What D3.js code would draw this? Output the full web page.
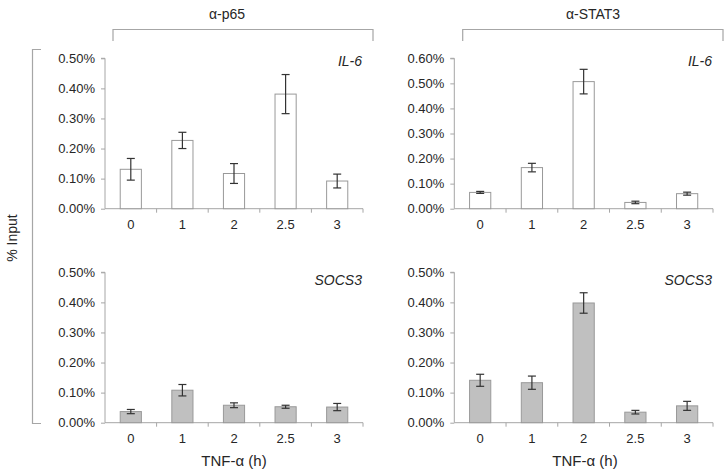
<!DOCTYPE html>
<html><head><meta charset="utf-8">
<script src="https://cdn.jsdelivr.net/npm/d3@7"></script>
<style>body{margin:0;background:#fff}svg{display:block}text{font-family:Arial,"Liberation Sans",sans-serif;fill:#262626}</style>
</head><body><svg id="c" width="728" height="475"></svg>
<script>
const categories = ["0","1","2","2.5","3"];
const p65IL6 = [0.131, 0.227, 0.117, 0.381, 0.092];
const p65IL6Err = [0.036, 0.027, 0.033, 0.065, 0.023];
const stat3IL6 = [0.065, 0.164, 0.507, 0.025, 0.060];
const stat3IL6Err = [0.004, 0.017, 0.049, 0.005, 0.006];
const p65SOCS3 = [0.037, 0.108, 0.058, 0.053, 0.052];
const p65SOCS3Err = [0.007, 0.019, 0.008, 0.005, 0.012];
const stat3SOCS3 = [0.141, 0.133, 0.398, 0.035, 0.056];
const stat3SOCS3Err = [0.020, 0.022, 0.034, 0.006, 0.015];
const yTicksA = [0,0.1,0.2,0.3,0.4,0.5];
const yTicksB = [0,0.1,0.2,0.3,0.4,0.5,0.6];
const columnTitles = ["\u03b1-p65","\u03b1-STAT3"];
const geneLabels = ["IL-6","SOCS3"];
const xTitle = "TNF-\u03b1 (h)";
const yTitle = "% Input";

const svg = d3.select("#c");
const axisColor = "#a6a6a6";
const fmt = d => d.toFixed(2) + "%";

const panels = [
  {vals:p65IL6, err:p65IL6Err, x0:105, x1:363, y0:208.7, y1:58.3, max:0.5, ticks:yTicksA, fill:"#ffffff", gene:geneLabels[0], gy:66},
  {vals:stat3IL6, err:stat3IL6Err, x0:454.3, x1:713, y0:208.7, y1:58.3, max:0.6, ticks:yTicksB, fill:"#ffffff", gene:geneLabels[0], gy:66},
  {vals:p65SOCS3, err:p65SOCS3Err, x0:105, x1:363, y0:422.7, y1:272.3, max:0.5, ticks:yTicksA, fill:"#c0c0c0", gene:geneLabels[1], gy:285},
  {vals:stat3SOCS3, err:stat3SOCS3Err, x0:454.3, x1:713, y0:422.7, y1:272.3, max:0.5, ticks:yTicksA, fill:"#c0c0c0", gene:geneLabels[1], gy:285}
];

panels.forEach(p => {
  const g = svg.append("g");
  const x = d3.scaleBand().domain(categories).range([p.x0, p.x1]).paddingInner(0.59).paddingOuter(0.295);
  const y = d3.scaleLinear().domain([0, p.max]).range([p.y0, p.y1]);
  const ya = g.append("g").attr("transform", `translate(${p.x0},0)`)
    .call(d3.axisLeft(y).tickValues(p.ticks).tickSize(4).tickPadding(6).tickFormat(fmt));
  ya.select(".domain").attr("stroke", axisColor).attr("d", `M-4,${p.y1}H0V${p.y0}`);
  ya.selectAll(".tick line").attr("stroke", axisColor);
  ya.selectAll(".tick text").attr("font-size", 13).attr("fill", "#262626").attr("font-family", "Arial, Liberation Sans");
  const xa = g.append("g").attr("transform", `translate(0,${p.y0})`)
    .call(d3.axisBottom(x).tickSize(0).tickPadding(11));
  xa.select(".domain").attr("stroke", axisColor).attr("d", `M${p.x0},0H${p.x1}`);
  xa.selectAll(".tick text").attr("font-size", 13).attr("fill", "#262626").attr("font-family", "Arial, Liberation Sans");
  const step = x.step();
  const bounds = categories.map((c,i) => x(c) - x.paddingInner()*step/2).slice(1).concat([p.x1]);
  g.selectAll(".bt").data(bounds).join("line")
    .attr("x1", d => d).attr("x2", d => d).attr("y1", p.y0).attr("y2", p.y0 + 4)
    .attr("stroke", axisColor);
  g.selectAll(".bar").data(p.vals).join("rect")
    .attr("x", (d,i) => x(categories[i])).attr("width", x.bandwidth())
    .attr("y", d => y(d)).attr("height", d => p.y0 - y(d))
    .attr("fill", p.fill).attr("stroke", "#999").attr("stroke-width", 1);
  const eb = g.selectAll(".eb").data(p.vals).join("g");
  eb.append("line")
    .attr("x1", (d,i) => x(categories[i]) + x.bandwidth()/2).attr("x2", (d,i) => x(categories[i]) + x.bandwidth()/2)
    .attr("y1", (d,i) => y(d + p.err[i])).attr("y2", (d,i) => y(d - p.err[i]))
    .attr("stroke", "#333").attr("stroke-width", 1.2);
  [1,-1].forEach(s => {
    eb.append("line")
      .attr("x1", (d,i) => x(categories[i]) + x.bandwidth()/2 - 4).attr("x2", (d,i) => x(categories[i]) + x.bandwidth()/2 + 4)
      .attr("y1", (d,i) => y(d + s*p.err[i])).attr("y2", (d,i) => y(d + s*p.err[i]))
      .attr("stroke", "#333").attr("stroke-width", 1.2);
  });
  g.append("text").attr("x", p.x1 - 1).attr("y", p.gy).attr("text-anchor", "end")
    .attr("font-style", "italic").attr("font-size", 14).text(p.gene);
});

const cols = [{x0:113, x1:373, cx:227, tx:234}, {x0:462.7, x1:723, cx:593, tx:585}];
cols.forEach((c,i) => {
  svg.append("text").attr("x", c.cx).attr("y", 19).attr("text-anchor", "middle").attr("font-size", 14).text(columnTitles[i]);
  svg.append("path").attr("d", `M${c.x0},41V29.5H${c.x1}V41`).attr("fill", "none").attr("stroke", axisColor).attr("stroke-width", 1.2);
  svg.append("text").attr("x", c.tx).attr("y", 466).attr("text-anchor", "middle").attr("font-size", 15).text(xTitle);
});
svg.append("path").attr("d", "M41,49.5H32.5V423.5H41").attr("fill", "none").attr("stroke", axisColor).attr("stroke-width", 1.2);
svg.append("text").attr("transform", "translate(17,238) rotate(-90)").attr("text-anchor", "middle").attr("font-size", 14).text(yTitle);
</script></body></html>
